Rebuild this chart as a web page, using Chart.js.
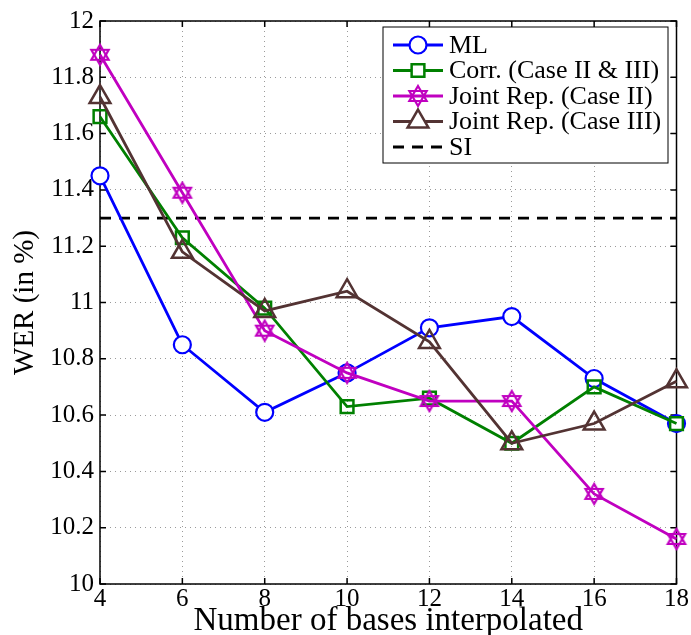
<!DOCTYPE html>
<html>
<head>
<meta charset="utf-8">
<script src="https://cdn.jsdelivr.net/npm/chart.js@4.4.0/dist/chart.umd.min.js"></script>
<style>
  html, body { margin: 0; padding: 0; background: #fff; overflow: hidden; }
  #wrap { width: 691px; height: 635px; }
</style>
</head>
<body>
<div id="wrap"><canvas id="wer_chart"></canvas></div>
<script>
// data
const basesInterpolated = [4, 6, 8, 10, 12, 14, 16, 18];
const werML = [11.45, 10.85, 10.61, 10.75, 10.91, 10.95, 10.73, 10.57];
const werCorr = [11.66, 11.23, 10.98, 10.63, 10.66, 10.50, 10.70, 10.57];
const werJointII = [11.88, 11.39, 10.90, 10.75, 10.65, 10.65, 10.32, 10.16];
const werJointIII = [11.73, 11.18, 10.97, 11.04, 10.86, 10.50, 10.57, 10.72];
const werSI = 11.30;
const yTicks = [10, 10.2, 10.4, 10.6, 10.8, 11, 11.2, 11.4, 11.6, 11.8, 12];

const FONT = "'Liberation Serif', 'Times New Roman', serif";

function toPoints(values) {
  return values.map(function (v, i) {
    return { x: basesInterpolated[i], y: v };
  });
}

// six-pointed star marker (matlab 'hexagram')
function makeHexagram(color, r) {
  const c = document.createElement("canvas");
  const size = Math.ceil(r * 2 + 4);
  c.width = size;
  c.height = size;
  const g = c.getContext("2d");
  g.strokeStyle = color;
  g.lineWidth = 2.2;
  const cx = size / 2, cy = size / 2;
  [ -Math.PI / 2, Math.PI / 2 ].forEach(function (start) {
    g.beginPath();
    for (let k = 0; k < 3; k++) {
      const a = start + k * 2 * Math.PI / 3;
      const px = cx + r * Math.cos(a), py = cy + r * Math.sin(a);
      if (k === 0) g.moveTo(px, py); else g.lineTo(px, py);
    }
    g.closePath();
    g.stroke();
  });
  return c;
}
const hexagram = makeHexagram("#c000c0", 10);

// frame, inward ticks and boxed legend like matlab
const matlabFrame = {
  id: "matlabFrame",
  beforeDatasetsDraw(chart) {
    const ctx = chart.ctx;
    const a = chart.chartArea;
    const xs = chart.scales.x, ys = chart.scales.y;
    ctx.save();
    ctx.strokeStyle = "#000";
    ctx.lineWidth = 1.5;
    ctx.setLineDash([]);
    ctx.strokeRect(a.left, a.top, a.right - a.left, a.bottom - a.top);
    ctx.beginPath();
    basesInterpolated.forEach(function (v) {
      const px = xs.getPixelForValue(v);
      ctx.moveTo(px, a.bottom); ctx.lineTo(px, a.bottom - 6);
      ctx.moveTo(px, a.top); ctx.lineTo(px, a.top + 6);
    });
    yTicks.forEach(function (v) {
      const py = ys.getPixelForValue(v);
      ctx.moveTo(a.left, py); ctx.lineTo(a.left + 6, py);
      ctx.moveTo(a.right, py); ctx.lineTo(a.right - 6, py);
    });
    ctx.stroke();
    ctx.restore();
  },
  afterDraw(chart) {
    const ctx = chart.ctx;
    ctx.save();
    // legend box
    const bx = 383, by = 27, bw = 285, bh = 136;
    ctx.fillStyle = "#fff";
    ctx.fillRect(bx, by, bw, bh);
    ctx.strokeStyle = "#000";
    ctx.lineWidth = 1;
    ctx.strokeRect(bx, by, bw, bh);
    ctx.font = "26px " + FONT;
    ctx.textBaseline = "middle";
    chart.data.datasets.forEach(function (ds, i) {
      const ry = by + 18 + i * 25.5;
      ctx.save();
      ctx.strokeStyle = ds.borderColor;
      ctx.lineWidth = ds.borderWidth;
      ctx.setLineDash(ds.borderDash || []);
      ctx.beginPath();
      ctx.moveTo(bx + 10, ry);
      ctx.lineTo(bx + 60, ry);
      ctx.stroke();
      ctx.setLineDash([]);
      if (ds.pointRadius > 0) {
        ctx.fillStyle = "#fff";
        ctx.strokeStyle = ds.pointBorderColor || ds.borderColor;
        ctx.lineWidth = ds.pointBorderWidth || 2;
        Chart.helpers.drawPoint(ctx, {
          pointStyle: ds.pointStyle,
          radius: ds.pointRadius,
          rotation: 0,
          borderWidth: ds.pointBorderWidth || 2,
        }, bx + 35, ry);
      }
      ctx.restore();
      ctx.fillStyle = "#000";
      ctx.fillText(ds.label, bx + 66, ry + 1);
    });
    ctx.restore();
  },
};

const chart1 = new Chart(document.getElementById("wer_chart"), {
  type: "line",
  data: {
    datasets: [
      {
        label: "ML",
        data: toPoints(werML),
        borderColor: "#0000ff",
        backgroundColor: "#ffffff",
        borderWidth: 2.8,
        pointStyle: "circle",
        pointRadius: 8.5,
        pointBorderWidth: 2.2,
        clip: false,
        order: 5,
      },
      {
        label: "Corr. (Case II & III)",
        data: toPoints(werCorr),
        borderColor: "#008000",
        backgroundColor: "rgba(0,0,0,0)",
        borderWidth: 2.8,
        pointStyle: "rect",
        pointRadius: 9,
        pointBorderWidth: 2.5,
        clip: false,
        order: 4,
      },
      {
        label: "Joint Rep. (Case II)",
        data: toPoints(werJointII),
        borderColor: "#c000c0",
        backgroundColor: "rgba(0,0,0,0)",
        borderWidth: 2.8,
        pointStyle: hexagram,
        pointRadius: 10,
        pointBorderWidth: 2,
        clip: false,
        order: 3,
      },
      {
        label: "Joint Rep. (Case III)",
        data: toPoints(werJointIII),
        borderColor: "#533333",
        backgroundColor: "rgba(0,0,0,0)",
        borderWidth: 2.8,
        pointStyle: "triangle",
        pointRadius: 12,
        pointBorderWidth: 2.5,
        clip: false,
        order: 2,
      },
      {
        label: "SI",
        data: basesInterpolated.map(function (b) { return { x: b, y: werSI }; }),
        borderColor: "#000000",
        borderWidth: 2.8,
        borderDash: [11, 8],
        pointRadius: 0,
        order: 6,
      },
    ],
  },
  options: {
    responsive: true,
    maintainAspectRatio: false,
    animation: false,
    layout: { padding: { top: 20, right: 8, left: 0, bottom: 0 } },
    plugins: {
      legend: { display: false },
      tooltip: { enabled: false },
    },
    scales: {
      x: {
        type: "linear",
        min: 4,
        max: 18,
        afterBuildTicks: function (s) { s.ticks = basesInterpolated.map(function (v) { return { value: v }; }); },
        afterFit: function (s) {
          s.height = 51;
          s.paddingRight = 0;
          if (s._margins) { s._margins.right = 0; }
        },
        grid: { color: "#9a9a9a", lineWidth: 1, drawTicks: false },
        border: { display: false, dash: [1, 4] },
        ticks: {
          color: "#000",
          padding: 0,
          maxRotation: 0,
          font: { family: FONT, size: 25 },
        },
        title: {
          display: true,
          text: "Number of bases interpolated",
          color: "#000",
          padding: { top: -10, bottom: -6 },
          font: { family: FONT, size: 33 },
        },
      },
      y: {
        type: "linear",
        min: 10,
        max: 12,
        afterBuildTicks: function (s) { s.ticks = yTicks.map(function (v) { return { value: v }; }); },
        afterFit: function (s) { s.width = 100; },
        grid: { color: "#9a9a9a", lineWidth: 1, drawTicks: false },
        border: { display: false, dash: [1, 4] },
        ticks: {
          color: "#000",
          padding: 6,
          font: { family: FONT, size: 25 },
          callback: function (v) { return String(Math.round(v * 10) / 10); },
        },
        title: {
          display: true,
          text: "WER (in %)",
          color: "#000",
          padding: { top: 8, bottom: 4 },
          font: { family: FONT, size: 29 },
        },
      },
    },
  },
  plugins: [matlabFrame],
});
</script>
</body>
</html>
